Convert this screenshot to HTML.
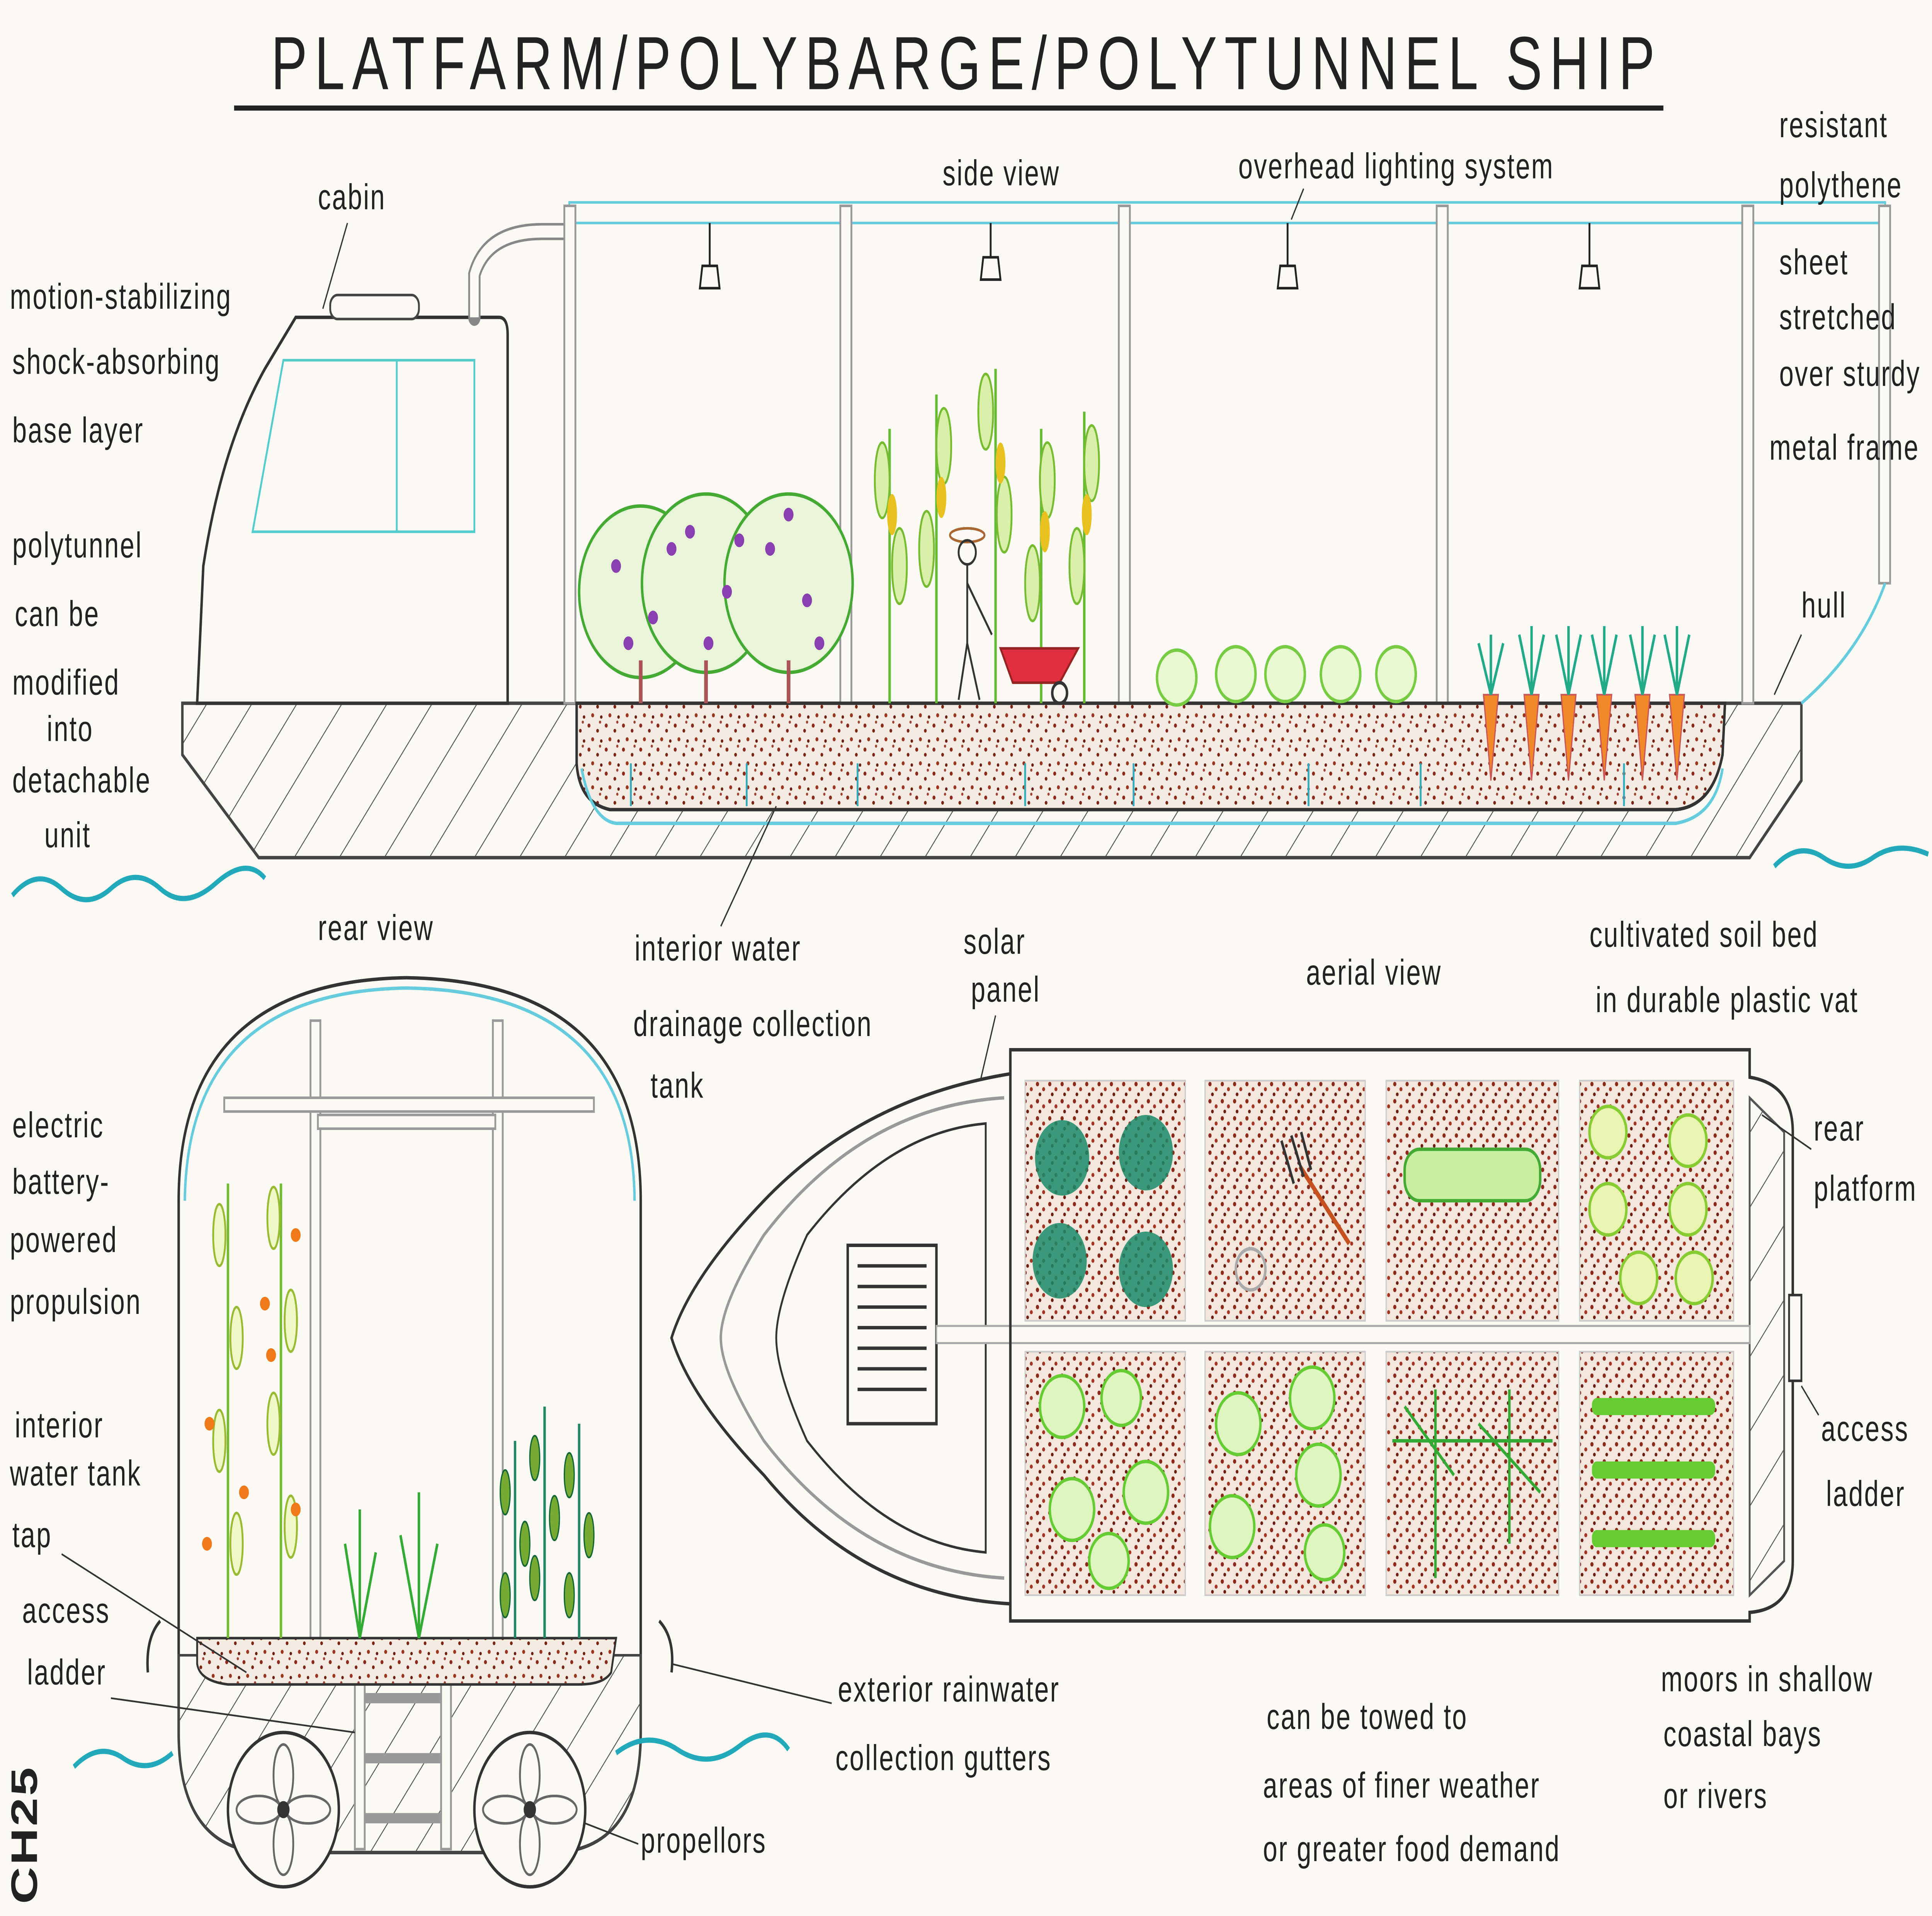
<!DOCTYPE html>
<html><head><meta charset="utf-8">
<style>
html,body{margin:0;padding:0;background:#fbfaf4;width:100%;height:100%;overflow:hidden;}
svg{position:absolute;left:0;top:0;display:block;width:100vw;height:100vh;}
text{font-family:"Liberation Sans",sans-serif;fill:#222;font-size:21px;letter-spacing:1px;}
</style></head><body>
<svg viewBox="0 0 1568 1117" preserveAspectRatio="none" xmlns="http://www.w3.org/2000/svg">
<defs>
<pattern id="hatch" width="28" height="28" patternUnits="userSpaceOnUse" patternTransform="rotate(40)">
<line x1="0" y1="0" x2="0" y2="28" stroke="#555" stroke-width="1.3"/></pattern>
<pattern id="soil" width="14" height="14" patternUnits="userSpaceOnUse">
<rect width="14" height="14" fill="#f4ece2"/>
<circle cx="2" cy="3" r="1.2" fill="#8b2a1a"/><circle cx="9" cy="6" r="1.1" fill="#7a2414"/>
<circle cx="5" cy="11" r="1.2" fill="#9a3520"/><circle cx="12" cy="12" r="1" fill="#6b1e10"/>
<circle cx="11" cy="1" r="0.9" fill="#a04030"/></pattern>
<pattern id="soil2" width="10" height="10" patternUnits="userSpaceOnUse">
<rect width="10" height="10" fill="#f3e6dc"/>
<circle cx="2" cy="2" r="1.3" fill="#8b2a1a"/><circle cx="7" cy="5" r="1.2" fill="#a33522"/>
<circle cx="4" cy="8" r="1.1" fill="#6b1e10"/></pattern>
</defs>
<rect width="1568" height="1117" fill="#fbfaf4"/>

<text x="220" y="52" style="font-size:44px;letter-spacing:6px">PLATFARM/POLYBARGE/POLYTUNNEL SHIP</text>
<line x1="190" y1="63" x2="1350" y2="63" stroke="#222" stroke-width="3"/>

<path d="M148 410 L1462 410 L1462 455 L1420 500 L210 500 L148 440 Z" fill="url(#hatch)" stroke="#444" stroke-width="2"/>
<path d="M160 410 L165 330 Q180 260 215 215 L240 185 L405 185 Q412 185 412 195 L412 410 Z" fill="#fbfaf4" stroke="#333" stroke-width="2"/>
<rect x="268" y="172" width="72" height="14" rx="6" fill="#fbfaf4" stroke="#444" stroke-width="1.5"/>
<path d="M230 210 L385 210 L385 310 L205 310 Z" fill="none" stroke="#5cc" stroke-width="1.5"/>
<line x1="322" y1="210" x2="322" y2="310" stroke="#5cc" stroke-width="1.5"/>
<path d="M385 185 L385 160 Q395 135 440 135 L462 135" fill="none" stroke="#888" stroke-width="10" stroke-linecap="round"/>
<path d="M385 185 L385 160 Q395 135 440 135 L462 135" fill="none" stroke="#fbfaf4" stroke-width="7"/>
<rect x="462" y="118" width="1068" height="12" fill="#fbfaf4" stroke="#6cd" stroke-width="1.5"/>
<g fill="#fbfaf4" stroke="#999" stroke-width="1.5">
<rect x="458" y="120" width="9" height="290"/><rect x="682" y="120" width="9" height="290"/>
<rect x="908" y="120" width="9" height="290"/><rect x="1166" y="120" width="9" height="290"/>
<rect x="1414" y="120" width="9" height="290"/><rect x="1525" y="120" width="9" height="220"/>
</g>
<path d="M1530 340 Q1510 380 1462 410" fill="none" stroke="#6cd" stroke-width="2"/>
<g stroke="#222" stroke-width="1.5" fill="none">
<path d="M576 130 V155 M570 155 H582 L584 168 H568 Z"/>
<path d="M804 130 V150 M798 150 H810 L812 163 H796 Z"/>
<path d="M1045 130 V155 M1039 155 H1051 L1053 168 H1037 Z"/>
<path d="M1290 130 V155 M1284 155 H1296 L1298 168 H1282 Z"/>
</g>
<path d="M468 410 L1400 410 L1398 440 Q1390 470 1360 472 L495 472 Q470 468 468 445 Z" fill="url(#soil)" stroke="#333" stroke-width="2"/>
<path d="M472 448 Q480 478 500 480 L1360 480 Q1392 476 1398 448" fill="none" stroke="#6cd" stroke-width="2"/>
<g stroke="#3ab" stroke-width="1.5">
<line x1="512" y1="445" x2="512" y2="470"/><line x1="606" y1="445" x2="606" y2="470"/>
<line x1="696" y1="445" x2="696" y2="470"/><line x1="832" y1="445" x2="832" y2="470"/>
<line x1="920" y1="445" x2="920" y2="470"/><line x1="1062" y1="445" x2="1062" y2="470"/>
<line x1="1153" y1="445" x2="1153" y2="470"/><line x1="1318" y1="445" x2="1318" y2="470"/>
</g>
<g>
<circle cx="520" cy="345" r="50" fill="#e8f5d8" stroke="#4a3" stroke-width="2"/>
<circle cx="573" cy="340" r="52" fill="#e8f5d8" stroke="#4a3" stroke-width="2"/>
<circle cx="640" cy="340" r="52" fill="#e8f5d8" stroke="#4a3" stroke-width="2"/>
<g fill="#8a3fb0">
<circle cx="500" cy="330" r="4"/><circle cx="530" cy="360" r="4"/><circle cx="545" cy="320" r="4"/><circle cx="510" cy="375" r="4"/>
<circle cx="560" cy="310" r="4"/><circle cx="590" cy="345" r="4"/><circle cx="575" cy="375" r="4"/><circle cx="600" cy="315" r="4"/>
<circle cx="625" cy="320" r="4"/><circle cx="655" cy="350" r="4"/><circle cx="640" cy="300" r="4"/><circle cx="665" cy="375" r="4"/>
</g>
<g stroke="#a55" stroke-width="3"><line x1="520" y1="410" x2="520" y2="385"/><line x1="573" y1="410" x2="573" y2="385"/><line x1="640" y1="410" x2="640" y2="385"/></g>
</g>
<g stroke="#6b3" stroke-width="2" fill="none">
<path d="M722 410 V250"/><path d="M760 410 V230"/><path d="M808 410 V215"/><path d="M845 410 V250"/><path d="M880 410 V240"/>
</g>
<g fill="#d8f0a8" stroke="#7b3" stroke-width="1.5">
<ellipse cx="716" cy="280" rx="6" ry="22"/><ellipse cx="730" cy="330" rx="6" ry="22"/><ellipse cx="766" cy="260" rx="6" ry="22"/>
<ellipse cx="752" cy="320" rx="6" ry="22"/><ellipse cx="800" cy="240" rx="6" ry="22"/><ellipse cx="815" cy="300" rx="6" ry="22"/>
<ellipse cx="850" cy="280" rx="6" ry="22"/><ellipse cx="838" cy="340" rx="6" ry="22"/><ellipse cx="886" cy="270" rx="6" ry="22"/><ellipse cx="874" cy="330" rx="6" ry="22"/>
</g>
<g fill="#e8c020"><ellipse cx="724" cy="300" rx="4" ry="12"/><ellipse cx="764" cy="290" rx="4" ry="12"/><ellipse cx="812" cy="270" rx="4" ry="12"/><ellipse cx="848" cy="310" rx="4" ry="12"/><ellipse cx="882" cy="300" rx="4" ry="12"/></g>
<g stroke="#333" stroke-width="1.5" fill="none">
<ellipse cx="785" cy="312" rx="14" ry="4" stroke="#a63"/><circle cx="785" cy="322" r="7"/>
<line x1="785" y1="329" x2="785" y2="375"/><line x1="785" y1="340" x2="805" y2="370"/><line x1="785" y1="375" x2="778" y2="408"/><line x1="785" y1="375" x2="795" y2="408"/>
</g>
<path d="M812 378 L875 378 L860 398 L822 398 Z" fill="#e03040" stroke="#922" stroke-width="1.5"/>
<circle cx="860" cy="404" r="6" fill="none" stroke="#333" stroke-width="2"/>
<g fill="#e8f8d0" stroke="#7c4" stroke-width="2">
<circle cx="955" cy="395" r="16"/><circle cx="1003" cy="393" r="16"/><circle cx="1043" cy="393" r="16"/><circle cx="1088" cy="393" r="16"/><circle cx="1133" cy="393" r="16"/>
</g>
<g>
<path d="M1204 405 L1210 455 L1216 405 Z M1237 405 L1243 455 L1249 405 Z M1267 405 L1273 455 L1279 405 Z M1296 405 L1302 455 L1308 405 Z M1327 405 L1333 455 L1339 405 Z M1355 405 L1361 455 L1367 405 Z" fill="#f08a28" stroke="#c55" stroke-width="1"/>
<g stroke="#2a8" stroke-width="2" fill="none">
<path d="M1210 405 L1200 375 M1210 405 L1210 370 M1210 405 L1220 375"/>
<path d="M1243 405 L1233 370 M1243 405 L1243 365 M1243 405 L1253 370"/>
<path d="M1273 405 L1263 370 M1273 405 L1273 365 M1273 405 L1283 370"/>
<path d="M1302 405 L1292 370 M1302 405 L1302 365 M1302 405 L1312 370"/>
<path d="M1333 405 L1323 370 M1333 405 L1333 365 M1333 405 L1343 370"/>
<path d="M1361 405 L1351 370 M1361 405 L1361 365 M1361 405 L1371 370"/>
</g></g>
<path d="M10 522 Q30 505 50 518 T90 518 T130 518 T175 515 T215 512" fill="none" stroke="#2ab" stroke-width="3"/>
<path d="M1440 505 Q1460 490 1480 500 T1520 500 T1565 498" fill="none" stroke="#2ab" stroke-width="3"/>

<text x="258" y="122">cabin</text><line x1="282" y1="130" x2="262" y2="180" stroke="#333"/>
<text x="765" y="108">side view</text>
<text x="1005" y="104">overhead lighting system</text><line x1="1058" y1="110" x2="1048" y2="128" stroke="#333"/>
<text x="1444" y="80">resistant</text><text x="1444" y="115">polythene</text><text x="1444" y="160">sheet</text>
<text x="1444" y="192">stretched</text><text x="1444" y="225">over sturdy</text><text x="1436" y="268">metal frame</text>
<text x="1462" y="360">hull</text><line x1="1462" y1="370" x2="1440" y2="405" stroke="#333"/>
<text x="8" y="180">motion-stabilizing</text><text x="10" y="218">shock-absorbing</text><text x="10" y="258">base layer</text>
<text x="10" y="325">polytunnel</text><text x="12" y="365">can be</text><text x="10" y="405">modified</text>
<text x="38" y="432">into</text><text x="10" y="462">detachable</text><text x="36" y="494">unit</text>

<path d="M145 1010 L145 700 Q145 572 330 570 Q520 572 520 700 L520 1010 Q520 1078 450 1080 L215 1080 Q145 1078 145 1010 Z" fill="#fbfaf4" stroke="#333" stroke-width="2"/>
<path d="M150 700 Q152 578 330 576 Q514 578 515 700" fill="none" stroke="#6cd" stroke-width="2"/>
<path d="M145 965 L520 965 L520 1010 Q520 1078 450 1080 L215 1080 Q145 1078 145 1010 Z" fill="url(#hatch)" stroke="#444" stroke-width="1.5"/>
<g fill="#fbfaf4" stroke="#999" stroke-width="1.5">
<rect x="252" y="595" width="8" height="360"/><rect x="400" y="595" width="8" height="360"/>
<rect x="182" y="640" width="300" height="8"/>
<rect x="258" y="650" width="144" height="8"/>
<rect x="288" y="958" width="8" height="120"/><rect x="358" y="958" width="8" height="120"/>
</g>
<g stroke="#999" stroke-width="6"><line x1="296" y1="990" x2="358" y2="990"/><line x1="296" y1="1025" x2="358" y2="1025"/><line x1="296" y1="1060" x2="358" y2="1060"/></g>
<path d="M160 955 L500 955 L496 975 Q490 982 470 982 L185 982 Q162 980 160 970 Z" fill="url(#soil)" stroke="#333" stroke-width="1.5"/>
<circle cx="230" cy="1055" r="45" fill="#fbfaf4" stroke="#333" stroke-width="2"/>
<circle cx="430" cy="1055" r="45" fill="#fbfaf4" stroke="#333" stroke-width="2"/>
<g fill="none" stroke="#666" stroke-width="1.5">
<ellipse cx="230" cy="1035" rx="8" ry="18"/><ellipse cx="230" cy="1075" rx="8" ry="18"/><ellipse cx="210" cy="1055" rx="18" ry="8"/><ellipse cx="250" cy="1055" rx="18" ry="8"/>
<ellipse cx="430" cy="1035" rx="8" ry="18"/><ellipse cx="430" cy="1075" rx="8" ry="18"/><ellipse cx="410" cy="1055" rx="18" ry="8"/><ellipse cx="450" cy="1055" rx="18" ry="8"/>
</g>
<circle cx="230" cy="1055" r="5" fill="#333"/><circle cx="430" cy="1055" r="5" fill="#333"/>
<g stroke="#7b3" stroke-width="2" fill="none"><path d="M185 955 V690"/><path d="M228 955 V690"/></g>
<g fill="#f0f8c8" stroke="#9b3" stroke-width="1.5">
<ellipse cx="178" cy="720" rx="5" ry="18"/><ellipse cx="192" cy="780" rx="5" ry="18"/><ellipse cx="178" cy="840" rx="5" ry="18"/><ellipse cx="192" cy="900" rx="5" ry="18"/>
<ellipse cx="222" cy="710" rx="5" ry="18"/><ellipse cx="236" cy="770" rx="5" ry="18"/><ellipse cx="222" cy="830" rx="5" ry="18"/><ellipse cx="236" cy="890" rx="5" ry="18"/>
</g>
<g fill="#f07a1a"><circle cx="170" cy="830" r="4"/><circle cx="198" cy="870" r="4"/><circle cx="215" cy="760" r="4"/><circle cx="240" cy="720" r="4"/><circle cx="240" cy="880" r="4"/><circle cx="168" cy="900" r="4"/><circle cx="220" cy="790" r="4"/></g>
<g stroke="#3a3" stroke-width="2" fill="none">
<path d="M292 955 L280 900 M292 955 L292 880 M292 955 L305 905"/>
<path d="M340 955 L325 895 M340 955 L340 870 M340 955 L355 900"/>
</g>
<g stroke="#286" stroke-width="2" fill="none"><path d="M418 955 V840"/><path d="M442 955 V820"/><path d="M470 955 V830"/></g>
<g fill="#7a3" stroke="#163" stroke-width="1">
<ellipse cx="410" cy="870" rx="4" ry="13"/><ellipse cx="426" cy="900" rx="4" ry="13"/><ellipse cx="410" cy="930" rx="4" ry="13"/>
<ellipse cx="434" cy="850" rx="4" ry="13"/><ellipse cx="450" cy="885" rx="4" ry="13"/><ellipse cx="434" cy="920" rx="4" ry="13"/>
<ellipse cx="462" cy="860" rx="4" ry="13"/><ellipse cx="478" cy="895" rx="4" ry="13"/><ellipse cx="462" cy="930" rx="4" ry="13"/>
</g>
<path d="M120 975 Q118 955 130 945" fill="none" stroke="#333" stroke-width="2"/>
<path d="M545 975 Q548 955 535 945" fill="none" stroke="#333" stroke-width="2"/>
<path d="M60 1030 Q80 1015 100 1025 T140 1022" fill="none" stroke="#2ab" stroke-width="3"/>
<path d="M500 1022 Q525 1008 550 1020 T600 1018 T640 1020" fill="none" stroke="#2ab" stroke-width="3"/>
<text x="258" y="548">rear  view</text>
<text x="10" y="663">electric</text><text x="10" y="696">battery-</text><text x="8" y="730">powered</text><text x="8" y="766">propulsion</text>
<text x="12" y="838">interior</text><text x="8" y="866">water tank</text><text x="10" y="902">tap</text>
<line x1="50" y1="906" x2="200" y2="975" stroke="#333"/>
<text x="18" y="946">access</text><text x="22" y="982">ladder</text><line x1="90" y1="990" x2="288" y2="1010" stroke="#333"/>
<text x="520" y="1080">propellors</text><line x1="518" y1="1075" x2="475" y2="1063" stroke="#333"/>
<text x="680" y="992">exterior rainwater</text><text x="678" y="1032">collection gutters</text>
<line x1="675" y1="993" x2="545" y2="970" stroke="#333"/>

<text x="515" y="560">interior water</text><text x="514" y="604">drainage collection</text><text x="528" y="640">tank</text>
<line x1="585" y1="540" x2="630" y2="470" stroke="#333"/>
<text x="782" y="556">solar</text><text x="788" y="584">panel</text>
<line x1="808" y1="592" x2="760" y2="740" stroke="#333"/>
<text x="1060" y="574">aerial  view</text>
<text x="1290" y="552">cultivated soil bed</text><text x="1295" y="590">in durable plastic vat</text>

<path d="M820 612 L1420 612 L1420 628 Q1455 632 1455 660 L1455 910 Q1455 938 1420 940 L1420 945 L820 945 L820 935 Q700 930 620 860 Q560 815 545 780 Q560 745 620 700 Q700 640 820 626 Z" fill="#fbfaf4" stroke="#333" stroke-width="2"/>
<path d="M1420 640 L1448 660 L1448 910 L1420 930 Z" fill="url(#hatch)" stroke="#555" stroke-width="1.5"/>
<path d="M815 640 Q700 645 620 720 Q585 760 585 780 Q585 800 620 840 Q700 915 815 920" fill="none" stroke="#999" stroke-width="2"/>
<path d="M800 655 Q720 660 655 720 Q630 760 630 780 Q630 800 655 840 Q720 900 800 905 Z" fill="#fbfaf4" stroke="#333" stroke-width="1.5"/>
<rect x="688" y="726" width="72" height="104" fill="#fbfaf4" stroke="#333" stroke-width="2"/>
<g stroke="#333" stroke-width="2"><line x1="696" y1="738" x2="752" y2="738"/><line x1="696" y1="750" x2="752" y2="750"/><line x1="696" y1="762" x2="752" y2="762"/><line x1="696" y1="774" x2="752" y2="774"/><line x1="696" y1="786" x2="752" y2="786"/><line x1="696" y1="798" x2="752" y2="798"/><line x1="696" y1="810" x2="752" y2="810"/></g>
<rect x="760" y="773" width="660" height="10" fill="#fbfaf4" stroke="#aaa" stroke-width="1.2"/>
<line x1="820" y1="612" x2="820" y2="945" stroke="#333" stroke-width="2"/>
<g fill="url(#soil2)" stroke="#ccc" stroke-width="1">
<rect x="832" y="630" width="130" height="140"/><rect x="978" y="630" width="130" height="140"/>
<rect x="1125" y="630" width="140" height="140"/><rect x="1282" y="630" width="125" height="140"/>
<rect x="832" y="788" width="130" height="142"/><rect x="978" y="788" width="130" height="142"/>
<rect x="1125" y="788" width="140" height="142"/><rect x="1282" y="788" width="125" height="142"/>
</g>
<g fill="#1a8a6a" opacity="0.85">
<circle cx="862" cy="675" r="22"/><circle cx="930" cy="672" r="22"/><circle cx="860" cy="735" r="22"/><circle cx="930" cy="740" r="22"/></g>
<g stroke="#c55020" stroke-width="3"><line x1="1055" y1="680" x2="1095" y2="725"/></g>
<path d="M1040 665 L1050 690 M1048 662 L1058 686 M1056 660 L1064 682" stroke="#333" stroke-width="2"/>
<circle cx="1015" cy="740" r="12" fill="none" stroke="#aaa" stroke-width="2"/>
<rect x="1140" y="670" width="110" height="30" rx="12" fill="#c8eea0" stroke="#4a3" stroke-width="2"/>
<g fill="#e8f4b0" stroke="#8c3" stroke-width="2">
<circle cx="1305" cy="660" r="15"/><circle cx="1370" cy="665" r="15"/><circle cx="1305" cy="705" r="15"/><circle cx="1370" cy="705" r="15"/><circle cx="1330" cy="745" r="15"/><circle cx="1375" cy="745" r="15"/></g>
<g fill="#dff5c0" stroke="#6c3" stroke-width="2">
<circle cx="862" cy="820" r="18"/><circle cx="910" cy="815" r="16"/><circle cx="870" cy="880" r="18"/><circle cx="930" cy="870" r="18"/><circle cx="900" cy="910" r="16"/>
<circle cx="1005" cy="830" r="18"/><circle cx="1065" cy="815" r="18"/><circle cx="1070" cy="860" r="18"/><circle cx="1000" cy="890" r="18"/><circle cx="1075" cy="905" r="16"/>
</g>
<g stroke="#3a3" stroke-width="2" fill="none">
<path d="M1130 840 H1260 M1165 810 V920 M1225 810 V900 M1140 820 L1180 860 M1200 830 L1250 870"/></g>
<g fill="#6c3">
<rect x="1292" y="815" width="100" height="10" rx="4"/><rect x="1292" y="852" width="100" height="10" rx="4"/><rect x="1292" y="892" width="100" height="10" rx="4"/></g>
<rect x="1452" y="755" width="10" height="50" fill="#fbfaf4" stroke="#333" stroke-width="1.5"/>
<text x="1472" y="665">rear</text><text x="1472" y="700">platform</text><line x1="1470" y1="670" x2="1430" y2="650" stroke="#333"/>
<text x="1478" y="840">access</text><text x="1482" y="878">ladder</text><line x1="1476" y1="825" x2="1462" y2="808" stroke="#333"/>
<text x="1028" y="1008">can be towed to</text><text x="1025" y="1048">areas of finer weather</text><text x="1025" y="1085">or greater food demand</text>
<text x="1348" y="986">moors in shallow</text><text x="1350" y="1018">coastal bays</text><text x="1350" y="1054">or rivers</text>
<text transform="translate(30,1110) rotate(-90)" style="font-size:30px;font-weight:bold">CH25</text>
</svg>
</body></html>
